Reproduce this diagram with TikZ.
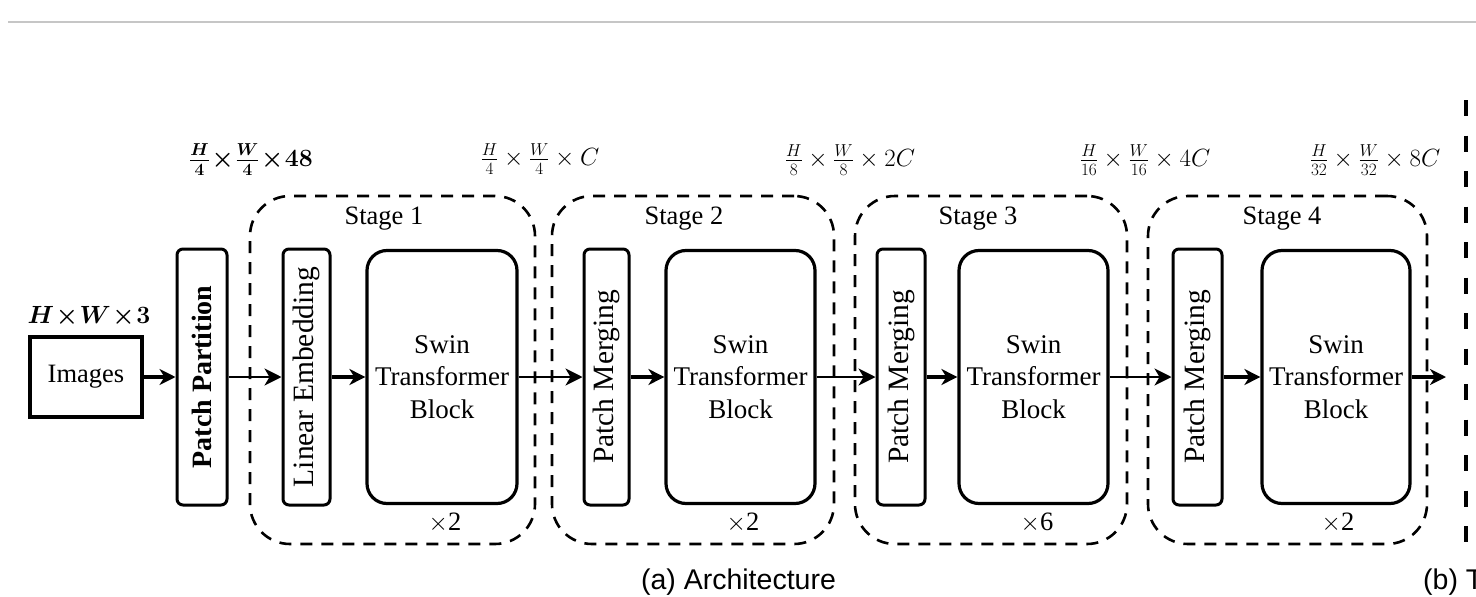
\documentclass[tikz,border=0pt]{standalone}
\usepackage[no-math]{fontspec}
\setmainfont{Liberation Serif}
\newfontfamily\capfont{Liberation Sans}
\usetikzlibrary{arrows.meta}
\begin{document}
\begin{tikzpicture}[x=1pt,y=-1pt,
  txt/.style={font=\fontsize{26.5}{32}\selectfont, inner sep=0pt},
  thinbox/.style={draw, line width=3pt, rounded corners=6pt, minimum width=47pt, minimum height=256pt, inner sep=0pt, font=\fontsize{29.5}{32}\selectfont},
  swinbox/.style={draw, line width=3.2pt, rounded corners=20pt, minimum width=149pt, minimum height=253pt, inner sep=0pt, align=center, font=\fontsize{27}{32.5}\selectfont},
  stagebox/.style={draw, line width=2.6pt, dash pattern=on 12pt off 9pt, rounded corners=40pt, inner sep=0pt, minimum height=348pt},
  imgbox/.style={draw, line width=3.5pt, minimum width=112pt, minimum height=80pt, inner sep=0pt, font=\fontsize{26.5}{32}\selectfont},
  arr/.style={line width=3.2pt, -{Stealth[length=16pt,width=16pt,inset=5pt]}},
  arrthin/.style={line width=2.4pt, -{Stealth[length=17pt,width=17pt,inset=5pt]}},
  dimlab/.style={font=\fontsize{25}{30}\selectfont, inner sep=0pt},
  dimbold/.style={font=\fontsize{25}{30}\selectfont\mathversion{bold}, inner sep=0pt},
  captxt/.style={font=\capfont\fontsize{28.5}{32}\selectfont, inner sep=0pt}
]
\useasboundingbox (0,0) rectangle (1476,597);
\draw[gray!45, line width=2pt] (8,22) -- (1476,22);

% stage boxes
\node[stagebox, minimum width=285pt] (s1) at (392.5,370) {};
\node[stagebox, minimum width=282pt] (s2) at (693,370) {};
\node[stagebox, minimum width=272pt] (s3) at (991,370) {};
\node[stagebox, minimum width=279pt] (s4) at (1287.5,370) {};

% right separator
\coordinate (septop) at (1466,100);
\coordinate (sepbot) at (1466,542);
\draw[line width=4pt, dash pattern=on 16pt off 19.5pt] (septop) -- (sepbot);

% stage titles
\node[txt] (t1) at (384,219) {Stage 1};
\node[txt] (t2) at (684,219) {Stage 2};
\node[txt] (t3) at (978,219) {Stage 3};
\node[txt] (t4) at (1282,219) {Stage 4};

% blocks
\node[imgbox] (img) at (86,377) {Images};
\node[thinbox, minimum width=50pt, font=\fontsize{28}{32}\selectfont\bfseries] (pp) at (202,377) {\rotatebox{90}{Patch Partition}};
\node[thinbox] (le) at (306.5,377) {\rotatebox{90}{Linear Embedding}};
\node[swinbox, minimum width=150pt] (sw1) at (442,377) {Swin\\Transformer\\Block};
\node[thinbox, minimum width=45pt] (pm2) at (606.5,377) {\rotatebox{90}{Patch Merging}};
\node[swinbox] (sw2) at (740.5,377) {Swin\\Transformer\\Block};
\node[thinbox, minimum width=48pt] (pm3) at (901,377) {\rotatebox{90}{Patch Merging}};
\node[swinbox] (sw3) at (1033.5,377) {Swin\\Transformer\\Block};
\node[thinbox, minimum width=49pt] (pm4) at (1197.5,377) {\rotatebox{90}{Patch Merging}};
\node[swinbox, minimum width=148pt] (sw4) at (1336,377) {Swin\\Transformer\\Block};
\coordinate (out) at (1446,377);

% repeat counts
\node[txt] (r1) at (445,523) {$\times$2};
\node[txt] (r2) at (743,523) {$\times$2};
\node[txt] (r3) at (1037,523) {$\times$6};
\node[txt] (r4) at (1338,523) {$\times$2};

% dimension labels
\node[dimbold] (d0) at (89,317) {$H\!\times\! W\!\times\! 3$};
\node[dimbold] (d1) at (251,160) {$\frac{H}{4}\!\times\!\frac{W}{4}\!\times\!48$};
\node[dimlab] (d2) at (540,159) {$\frac{H}{4}\times\frac{W}{4}\times C$};
\node[dimlab] (d3) at (850,160) {$\frac{H}{8}\times\frac{W}{8}\times 2C$};
\node[dimlab] (d4) at (1145,160) {$\frac{H}{16}\times\frac{W}{16}\times 4C$};
\node[dimlab] (d5) at (1375,160) {$\frac{H}{32}\times\frac{W}{32}\times 8C$};

% arrows
\draw[arr] (img.east) -- (pp.west);
\draw[arrthin] (pp.east) -- (le.west);
\draw[arr] (le.east) -- (sw1.west);
\draw[arrthin] (sw1.east) -- (pm2.west);
\draw[arr] (pm2.east) -- (sw2.west);
\draw[arrthin] (sw2.east) -- (pm3.west);
\draw[arr] (pm3.east) -- (sw3.west);
\draw[arrthin] (sw3.east) -- (pm4.west);
\draw[arr] (pm4.east) -- (sw4.west);
\draw[arr] (sw4.east) -- (out);

% captions
\node[captxt] (ca) at (738.5,582) {(a) Architecture};
\node[captxt, anchor=west] (cb) at (1423,582) {(b) T};
\end{tikzpicture}
\end{document}
